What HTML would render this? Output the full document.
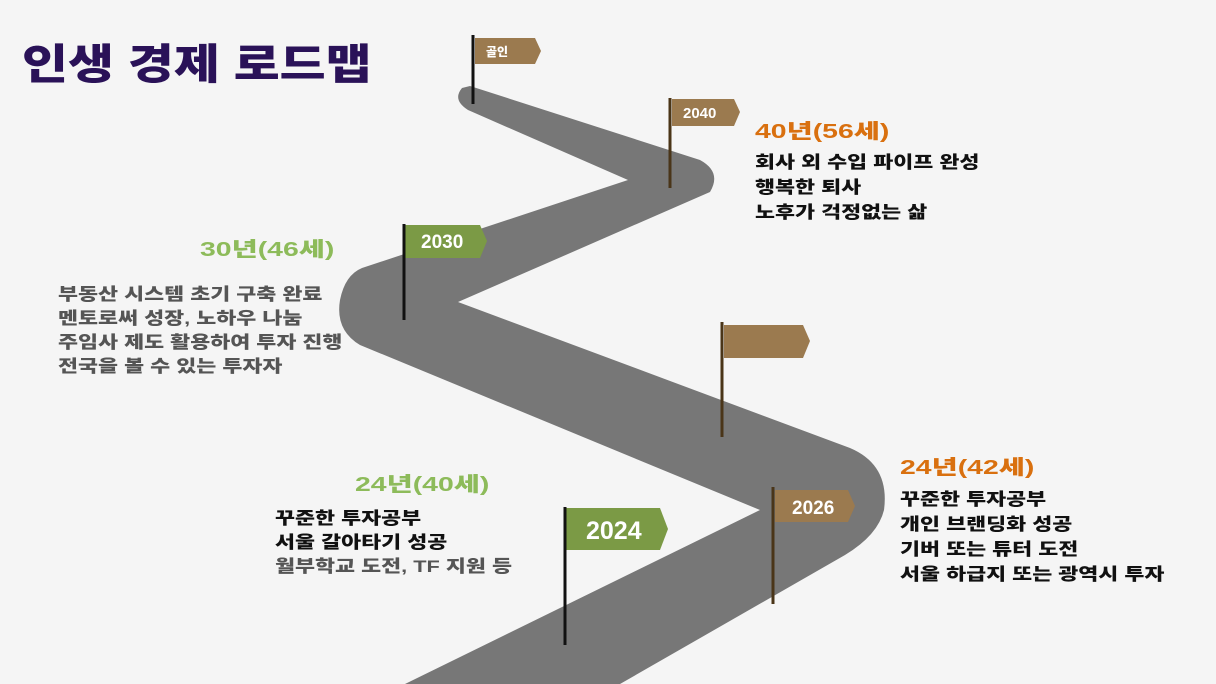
<!DOCTYPE html>
<html><head><meta charset="utf-8"><style>
body{margin:0;width:1216px;height:684px;overflow:hidden;background:#f5f5f5;font-family:"Liberation Sans","Noto Sans CJK KR",sans-serif;}
.t{position:absolute;font-weight:900;white-space:nowrap;transform-origin:0 0;}
.h{font-size:20px;transform:scaleX(1.42);}
.b{font-size:17px;transform:scaleX(1.28);}
</style></head><body>
<svg width="1216" height="684" style="position:absolute;left:0;top:0">
<rect width="1216" height="684" fill="#f5f5f5"/>
<path fill="#777" d="M470,86 L700,160 Q722,172 710,192 L458,302 L850,448 Q890,465 884,510 Q878,535 845,555 L620,684 L405,684 L760,510 L360,345 Q335,330 340,300 Q345,275 362,268 L628,180 L468,110 Q452,100 462,88 Z"/>
<g fill="#9b7a4f"><polygon points="475,38 535,38 541,51 535,64 475,64"/>
<polygon points="672,99 734,99 740,112 734,126 672,126"/>
<polygon points="724,325 803,325 810,341 803,358 724,358"/>
<polygon points="775,490 848,490 855,506 848,522 775,522"/></g>
<g fill="#7b9a45"><polygon points="405,225 480,225 487,241 480,258 405,258"/>
<polygon points="566,508 660,508 668,529 660,550 566,550"/></g>
<g stroke-width="3"><line x1="473" y1="35" x2="473" y2="104" stroke="#111"/>
<line x1="670" y1="98" x2="670" y2="188" stroke="#4a3518"/>
<line x1="404" y1="224" x2="404" y2="320" stroke="#111"/>
<line x1="722" y1="322" x2="722" y2="437" stroke="#4a3518"/>
<line x1="773" y1="487" x2="773" y2="604" stroke="#4a3518"/>
<line x1="565" y1="507" x2="565" y2="645" stroke="#111"/></g>
<g fill="#fff" font-weight="900" font-family="Liberation Sans,Noto Sans CJK KR,sans-serif">
<text x="486" y="56" font-size="12">골인</text>
<text x="683" y="118" font-size="15">2040</text>
<text x="421" y="248" font-size="19">2030</text>
<text x="792" y="514" font-size="19">2026</text>
<text x="586" y="539" font-size="25">2024</text></g>
</svg>
<div class="t" style="left:22px;top:31px;font-size:42px;color:#2a1258;transform:scaleX(1.19);">인생 경제 로드맵</div>
<div class="t h" style="left:755px;top:115px;color:#d9700f;">40년(56세)</div>
<div class="t b" style="left:755px;top:150px;line-height:25px;color:#111;">회사 외 수입 파이프 완성<br>행복한 퇴사<br>노후가 걱정없는 삶</div>
<div class="t h" style="left:200px;top:233px;color:#8dbb5a;">30년(46세)</div>
<div class="t b" style="left:58px;top:283px;line-height:24px;color:#555;">부동산 시스템 초기 구축 완료<br>멘토로써 성장, 노하우 나눔<br>주임사 제도 활용하여 투자 진행<br>전국을 볼 수 있는 투자자</div>
<div class="t h" style="left:355px;top:468px;color:#8dbb5a;">24년(40세)</div>
<div class="t b" style="left:275px;top:507px;line-height:24px;color:#111;">꾸준한 투자공부<br>서울 갈아타기 성공<br><span style="color:#555">월부학교 도전, TF 지원 등</span></div>
<div class="t h" style="left:900px;top:451px;color:#d9700f;">24년(42세)</div>
<div class="t b" style="left:900px;top:487px;line-height:25px;color:#111;">꾸준한 투자공부<br>개인 브랜딩화 성공<br>기버 또는 튜터 도전<br>서울 하급지 또는 광역시 투자</div>
</body></html>
